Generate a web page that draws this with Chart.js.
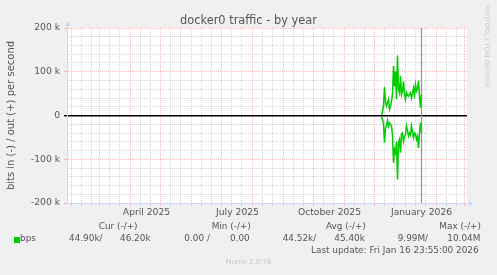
<!DOCTYPE html>
<html>
<head>
<meta charset="utf-8">
<title>docker0 traffic - by year</title>
<script src="https://cdn.jsdelivr.net/npm/chart.js@4.4.1/dist/chart.umd.min.js"></script>
<style>
  html, body { margin: 0; padding: 0; background: #f0f0f0; }
  #graph { position: relative; width: 497px; height: 275px; overflow: hidden;
           font-family: 'DejaVu Sans', sans-serif; color: #555; }
  #graph canvas { position: absolute; left: 0; top: 0; }
  .txt { position: absolute; white-space: pre; line-height: 1; }
  .lg { font-size: 8.9px; }
  .wm { color: #c8c8c8; }
  .swatch { position: absolute; left: 14px; top: 237px; width: 6px; height: 6px; background: #00cc00; }
</style>
</head>
<body>
<div id="graph">
  <canvas id="chart" width="497" height="275"></canvas>

  <div class="txt" style="left:0;top:15.4px;width:497px;text-align:center;font-size:11.4px">docker0 traffic - by year</div>
  <div class="txt wm" style="left:484px;top:5px;font-size:6.4px;writing-mode:vertical-rl">RRDTOOL / TOBI OETIKER</div>

  <div class="txt lg" style="left:98.7px;top:222px">Cur (-/+)</div>
  <div class="txt lg" style="left:211.7px;top:222px">Min (-/+)</div>
  <div class="txt lg" style="left:326px;top:222px">Avg (-/+)</div>
  <div class="txt lg" style="left:439.3px;top:222px">Max (-/+)</div>

  <div class="swatch"></div>
  <div class="txt lg" style="left:20px;top:234.3px">bps</div>
  <div class="txt lg" style="left:69px;top:234.3px">44.90k/</div>
  <div class="txt lg" style="left:120px;top:234.3px">46.20k</div>
  <div class="txt lg" style="left:184.3px;top:234.3px">0.00 /</div>
  <div class="txt lg" style="left:230px;top:234.3px">0.00</div>
  <div class="txt lg" style="left:282.7px;top:234.3px">44.52k/</div>
  <div class="txt lg" style="left:334.3px;top:234.3px">45.40k</div>
  <div class="txt lg" style="left:397.7px;top:234.3px">9.99M/</div>
  <div class="txt lg" style="left:447.3px;top:234.3px">10.04M</div>

  <div class="txt lg" style="left:311px;top:246.2px">Last update: Fri Jan 16 23:55:00 2026</div>
  <div class="txt wm" style="left:0;top:259px;width:497px;text-align:center;font-size:7px">Munin 2.0.76</div>
</div>

<script>
// ── Series: daily averages in kbit/s, one sample per day from firstSample ──
const firstSample = '2025-12-08';
const outKbps = [2, 8, 22, 65, 30, 21, 30, 37, 14, 20, 32, 50, 113, 67, 101, 37, 137, 60, 52, 90,
  48, 56, 78, 50, 37, 52, 46, 44, 48, 52, 40, 50, 63, 48, 71, 56, 62, 80, 45, 18, 48];
const inKbps = [3, 9, 18, 62, 28, 24, 12, 25, 17, 20, 24, 45, 108, 78, 85, 60, 146, 62, 55, 85,
  42, 40, 59, 48, 43, 24, 35, 47, 40, 45, 24, 38, 51, 40, 43, 55, 48, 74, 40, 16, 39];

// ── Time range and ticks ─────────────────────────────────────────────────
const rangeStart = '2025-01-27T12:00:00Z';
const rangeEnd = '2026-03-03T12:00:00Z';
const lastUpdate = '2026-01-16T23:55:00Z';
const xTickLabels = ['April 2025', 'July 2025', 'October 2025', 'January 2026'];
const xLabelDates = ['2025-04-17', '2025-07-17', '2025-10-17', '2026-01-17'];
const minorDays = [11, 21];
const yTickValues = [-200, -100, 0, 100, 200];
const yTickLabels = ['-200 k', '-100 k', '0', '100 k', '200 k'];

// ── Theme ────────────────────────────────────────────────────────────────
const FONT = '#555555';
const AXIS = '#cdd4f6';
const GRID = 'rgba(150,150,150,0.42)';
const MGRID = 'rgba(235,70,70,0.36)';
const LINE = '#00cc00';
const FAMILY = "'DejaVu Sans', sans-serif";

const DAY = 86400000;
const T0 = Date.UTC(2025, 0, 1);
const toDay = (s) => (Date.parse(s.length === 10 ? s + 'T00:00:00Z' : s) - T0) / DAY;

const xMin = toDay(rangeStart);
const xMax = toDay(rangeEnd);
const day0 = toDay(firstSample);

// month starts are major lines, 11th and 21st minor, label ticks carry no line
const xTicks = [];
for (let y = 2025, m = 0; y < 2026 || m < 3; m++) {
  if (m === 12) { m = 0; y++; }
  const start = (Date.UTC(y, m, 1) - T0) / DAY;
  if (start >= xMin && start <= xMax) xTicks.push({ value: start, kind: 'major', label: '' });
  minorDays.forEach((d) => {
    const v = (Date.UTC(y, m, d) - T0) / DAY;
    if (v >= xMin && v <= xMax) xTicks.push({ value: v, kind: 'minor', label: '' });
  });
}
xLabelDates.forEach((d, i) => xTicks.push({ value: toDay(d), kind: 'label', label: xTickLabels[i] }));
xTicks.sort((a, b) => a.value - b.value);

const lineColor = (kind) => kind === 'major' ? MGRID : kind === 'minor' ? GRID : 'rgba(0,0,0,0)';

// ── Plugins ──────────────────────────────────────────────────────────────
const plotBackground = {
  id: 'plotBackground',
  beforeDraw(chart) {
    const { ctx, chartArea: a } = chart;
    ctx.save();
    ctx.fillStyle = '#ffffff';
    ctx.fillRect(a.left, a.top, a.right - a.left, a.bottom - a.top);
    ctx.restore();
  }
};

const axisArrows = {
  id: 'axisArrows',
  afterDraw(chart) {
    const { ctx, chartArea: a } = chart;
    const bx = Math.round(a.left) + 0.5;
    const by = Math.round(a.bottom) + 0.5;
    ctx.save();
    ctx.strokeStyle = AXIS;
    ctx.fillStyle = AXIS;
    ctx.lineWidth = 1;
    ctx.beginPath();
    ctx.moveTo(a.right, by); ctx.lineTo(a.right + 3, by);
    ctx.moveTo(bx, a.top); ctx.lineTo(bx, a.top - 3);
    ctx.stroke();
    ctx.beginPath();
    ctx.moveTo(a.right + 2, by - 2.5); ctx.lineTo(a.right + 6.5, by); ctx.lineTo(a.right + 2, by + 2.5);
    ctx.closePath(); ctx.fill();
    ctx.beginPath();
    ctx.moveTo(bx - 2.5, a.top - 2); ctx.lineTo(bx, a.top - 6.5); ctx.lineTo(bx + 2.5, a.top - 2);
    ctx.closePath(); ctx.fill();
    ctx.restore();
  }
};

// ── Chart ────────────────────────────────────────────────────────────────
const nowDay = toDay(lastUpdate);

new Chart(document.getElementById('chart'), {
  type: 'line',
  data: {
    datasets: [
      {
        label: 'out',
        data: outKbps.map((v, i) => ({ x: day0 + i, y: v })),
        borderColor: LINE, borderWidth: 1.5, pointRadius: 0, tension: 0,
      },
      {
        label: 'in',
        data: inKbps.map((v, i) => ({ x: day0 + i, y: -v })),
        borderColor: LINE, borderWidth: 1.5, pointRadius: 0, tension: 0,
      },
      {
        label: 'now',
        data: [{ x: nowDay, y: -200 }, { x: nowDay, y: 200 }],
        borderColor: '#9a9a9a', borderWidth: 1.3, pointRadius: 0,
      },
    ],
  },
  options: {
    responsive: false,
    animation: false,
    devicePixelRatio: 1,
    events: [],
    layout: { padding: { left: 0, top: 28, right: 30, bottom: 0 } },
    plugins: { legend: { display: false }, title: { display: false }, tooltip: { enabled: false } },
    scales: {
      x: {
        type: 'linear',
        min: xMin,
        max: xMax,
        afterFit: (s) => { s.height = 72; },
        afterBuildTicks: (s) => { s.ticks = xTicks.map((t) => ({ value: t.value, kind: t.kind, label: t.label })); },
        ticks: {
          autoSkip: false, maxRotation: 0, padding: 1, color: FONT,
          font: { family: FAMILY, size: 9.2 },
          callback: (v, i, ticks) => ticks[i].label,
        },
        grid: {
          z: -2,
          tickLength: 3,
          color: (c) => lineColor(c.tick && c.tick.kind),
        },
        border: { color: AXIS, width: 1, dash: [1, 1] },
      },
      y: {
        min: -200,
        max: 200,
        afterFit: (s) => { s.width = 67; },
        ticks: {
          stepSize: 20, autoSkip: false, padding: 4, color: FONT,
          font: { family: FAMILY, size: 9.2 },
          callback: (v) => { const i = yTickValues.indexOf(v); return i < 0 ? '' : yTickLabels[i]; },
        },
        grid: {
          z: -1,
          tickLength: 3,
          lineWidth: (c) => c.tick && c.tick.value === 0 ? 1.4 : 1,
          color: (c) => {
            const v = c.tick ? c.tick.value : null;
            if (v === 0) return '#000000';
            return yTickValues.includes(v) ? MGRID : GRID;
          },
          tickColor: (c) => {
            const v = c.tick ? c.tick.value : null;
            if (v === 0) return '#000000';
            return yTickValues.includes(v) ? MGRID : 'rgba(0,0,0,0)';
          },
        },
        border: {
          color: AXIS, width: 1,
          dash: (c) => c.tick && c.tick.value === 0 ? [] : [1, 1],
        },
        title: {
          display: true,
          text: 'bits in (-) / out (+) per second',
          color: FONT,
          font: { family: FAMILY, size: 10 },
          padding: { top: 5, bottom: 0 },
        },
      },
    },
  },
  plugins: [plotBackground, axisArrows],
});
</script>
</body>
</html>
